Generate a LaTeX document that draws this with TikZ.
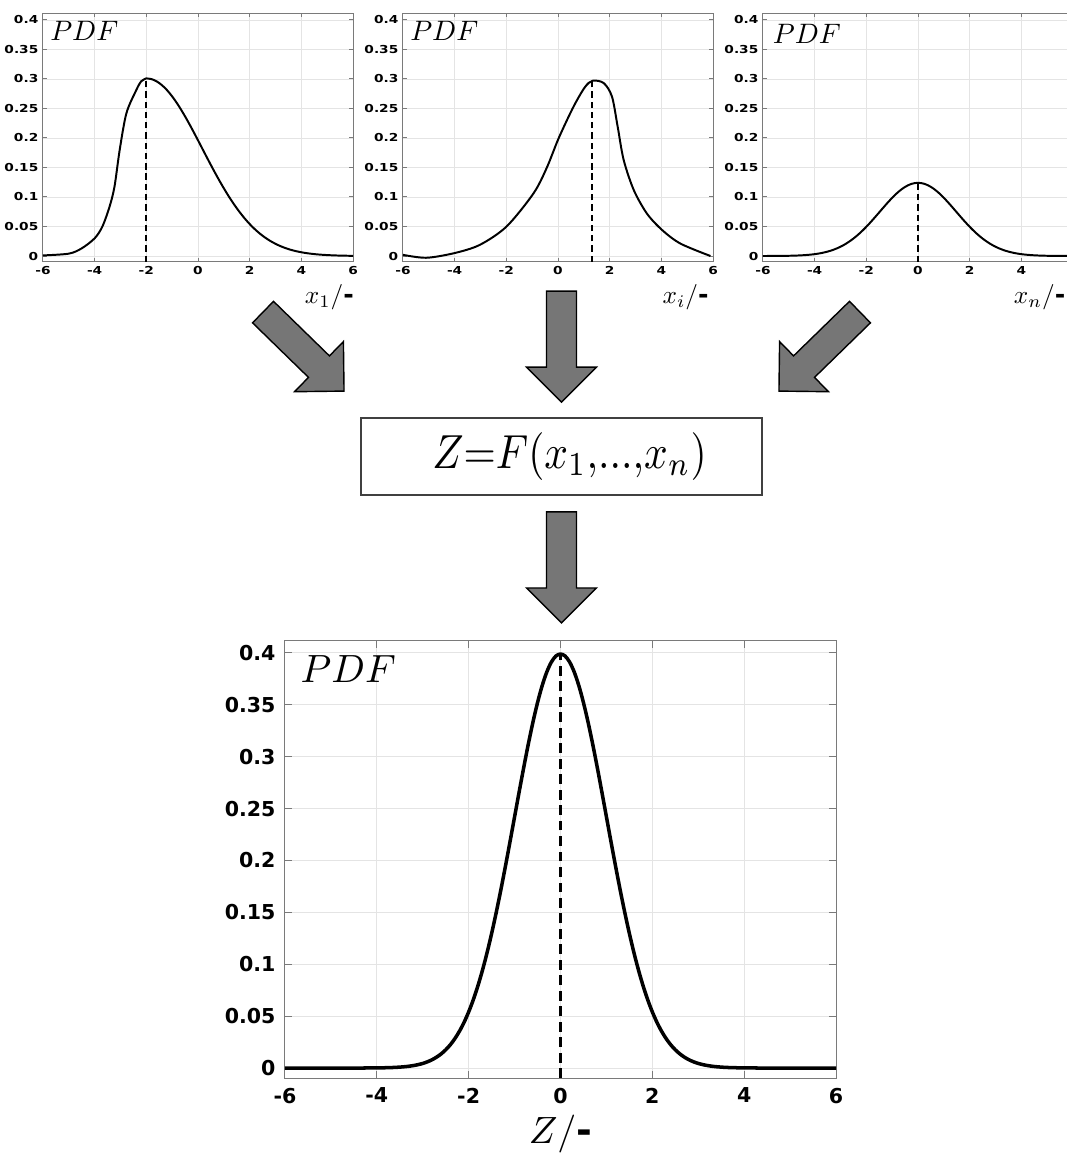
\documentclass[tikz,border=0pt]{standalone}
\usepackage{fontspec}
\setsansfont{DejaVu Sans}
\usepackage{graphicx}
\usepackage{tikz}
\usetikzlibrary{positioning,calc}

\definecolor{arrowgray}{HTML}{767676}
\definecolor{gridgray}{HTML}{E4E4E4}
\definecolor{framegray}{HTML}{7A7A7A}

% fat block arrow from #1 (tail) to #2 (tip)
\newcommand{\fatarrow}[2]{%
  \path (#2) coordinate (fa-tip) ($(#2)!0.875cm!(#1)$) coordinate (fa-base);
  \draw[fat] ($(#1)!0.375cm!90:(#2)$) -- ($(fa-base)!0.375cm!90:(fa-tip)$)
    -- ($(fa-base)!0.875cm!90:(fa-tip)$) -- (fa-tip)
    -- ($(fa-base)!0.875cm!-90:(fa-tip)$) -- ($(fa-base)!0.375cm!-90:(fa-tip)$)
    -- ($(#1)!0.375cm!-90:(#2)$) -- cycle;}

% axes box, grid, ticks and tick labels:
% #1 id, #2 tick length, #3 label style, #4 label stretch, #5 last x label
\newcommand{\panel}[5]{%
  \foreach \gx in {-4,-2,...,4}
    \draw[gridline] (\gx,-0.01) -- (\gx,0.4116);
  \foreach \gy in {0,...,8}
    \draw[gridline] (-6,{\gy*0.05}) -- (6,{\gy*0.05});
  \draw[frame] (-6,-0.01) rectangle (6,0.4116);
  \foreach \v [count=\i] in {0,0.05,0.1,0.15,0.2,0.25,0.3,0.35,0.4} {
    \draw[frame] (-6,\v) -- ++(#2,0);
    \draw[frame] (6,\v) -- ++(-#2,0);
    \node[#3, left] (#1y\i) at (-6,\v) {\scalebox{#4}[1]{\v}};
  }
  \foreach \gx in {-6,-4,...,6} {
    \draw[frame] (\gx,-0.01) -- ++(0,#2);
    \draw[frame] (\gx,0.4116) -- ++(0,-#2);
  }
  \foreach \gx [count=\i] in {-6,-4,...,#5}
    \node[#3, below] (#1x\i) at (\gx,-0.01) {\scalebox{#4}[1]{\gx}};
}

\begin{document}
\begin{tikzpicture}[x=0.025cm, y=-0.025cm,
  frame/.style={draw=framegray, line width=0.7pt},
  gridline/.style={draw=gridgray, line width=0.6pt},
  curve/.style={line width=1.4pt, line join=round},
  bigcurve/.style={line width=2.5pt, line join=round},
  peak/.style={line width=1.4pt, dash pattern=on 4.5pt off 2.8pt},
  bigpeak/.style={line width=2.4pt, dash pattern=on 7pt off 4pt},
  ticklab/.style={font=\sffamily\bfseries\fontsize{7.8}{8}\selectfont, inner sep=1.1mm},
  bigtick/.style={font=\sffamily\bfseries\fontsize{14.6}{16}\selectfont, inner sep=2.3mm},
  pdflab/.style={inner sep=0pt, scale=2},
  bigpdf/.style={inner sep=0pt, scale=2.8},
  axlab/.style={inner sep=0pt, anchor=east, scale=1.8},
  zlab/.style={inner sep=0pt, scale=2.7},
  fat/.style={draw=black, line width=1pt, fill=arrowgray, line join=miter},
  box/.style={draw=black!75, line width=1.3pt, minimum width=10.025cm,
    minimum height=1.925cm, inner sep=0pt}]
\useasboundingbox (0,0) rectangle (1067,1153);

% input x_1
\begin{scope}[shift={(198,256)}, x=0.6458cm, y=14.75cm]
  \panel{p1}{1mm}{ticklab}{1.25}{6}
  \draw[curve] plot[smooth] coordinates {(-6,0.001) (-5,0.004) (-4.5,0.013)
    (-4,0.03) (-3.7,0.05) (-3.42,0.084) (-3.23,0.118) (-3.03,0.18) (-2.77,0.242)
    (-2.39,0.281) (-2.2,0.296) (-2,0.301)}
    -- plot[domain=-2:6, samples=41, smooth] (\x,{0.301*exp(-(\x+2)*(\x+2)/9.33)});
  \draw[peak] (-2,-0.01) -- (-2,0.301);
  \node[pdflab] (pdf1) at (-4.4,0.382) {$PDF$};
  \node[axlab] (lab1) at (6.05,-0.07) {$x_1/$\textbf{\sffamily -}};
\end{scope}

% input x_i
\begin{scope}[shift={(558,256)}, x=0.6458cm, y=14.75cm]
  \panel{p2}{1mm}{ticklab}{1.25}{6}
  \draw[curve] plot[smooth] coordinates {(-6,0.002) (-5.1,-0.003) (-4,0.005)
    (-3.02,0.019) (-1.99,0.05) (-0.95,0.106) (-0.44,0.149) (0.03,0.2)
    (0.6,0.253) (1.04,0.286) (1.34,0.297) (1.77,0.293) (2.09,0.27) (2.31,0.219)
    (2.54,0.163) (2.93,0.112) (3.44,0.072) (4.03,0.044) (4.74,0.021) (5.9,0)};
  \draw[peak] (1.33,-0.01) -- (1.33,0.297);
  \node[pdflab] (pdf2) at (-4.4,0.382) {$PDF$};
  \node[axlab] (lab2) at (5.85,-0.07) {$x_i/$\textbf{\sffamily -}};
\end{scope}

% input x_n (right edge runs off the page)
\begin{scope}[shift={(918,256)}, x=0.6458cm, y=14.75cm]
  \panel{p3}{1mm}{ticklab}{1.25}{4}
  \draw[curve] plot[domain=-6:6, samples=97, smooth] (\x,{0.124*exp(-\x*\x/4.36)});
  \draw[peak] (0,-0.01) -- (0,0.124);
  \node[pdflab] (pdf3) at (-4.3,0.377) {$PDF$};
  \node[axlab] (lab3) at (5.72,-0.07) {$x_n/$\textbf{\sffamily -}};
\end{scope}

% model
\node[box] (model) at (561.5,456.5)
  {\hspace*{0.4cm}\scalebox{2.95}[3.4]{$Z{=}F(x_1{,}...{,}x_n)$}};

\coordinate (b1) at ([shift={(-16,-26)}]model.north west);
\coordinate (a1) at ([shift={(-81,-79)}]b1);
\coordinate (b2) at ([yshift=0.375cm]model.north);
\coordinate (a2) at ([yshift=2.775cm]b2);
\coordinate (b3) at ([shift={(16,-26)}]model.north east);
\coordinate (a3) at ([shift={(81,-79)}]b3);
\coordinate (a4) at ([yshift=-0.4cm]model.south);
\coordinate (b4) at ([yshift=-2.775cm]a4);
\fatarrow{a1}{b1}
\fatarrow{a2}{b2}
\fatarrow{a3}{b3}
\fatarrow{a4}{b4}

% output Z
\begin{scope}[shift={(560.5,1068)}, x=1.148cm, y=25.94cm]
  \panel{pz}{1.75mm}{bigtick}{1}{6}
  \draw[bigcurve] plot[domain=-6:6, samples=121, smooth] (\x,{0.3989*exp(-\x*\x/2)});
  \draw[bigpeak] (0,-0.0096) -- (0,0.3989);
  \node[bigpdf] (pdfz) at (-4.62,0.384) {$PDF$};
  \node[zlab] (labz) at (0,-0.064) {$Z/$\textbf{\sffamily -}};
\end{scope}
\end{tikzpicture}
\end{document}
